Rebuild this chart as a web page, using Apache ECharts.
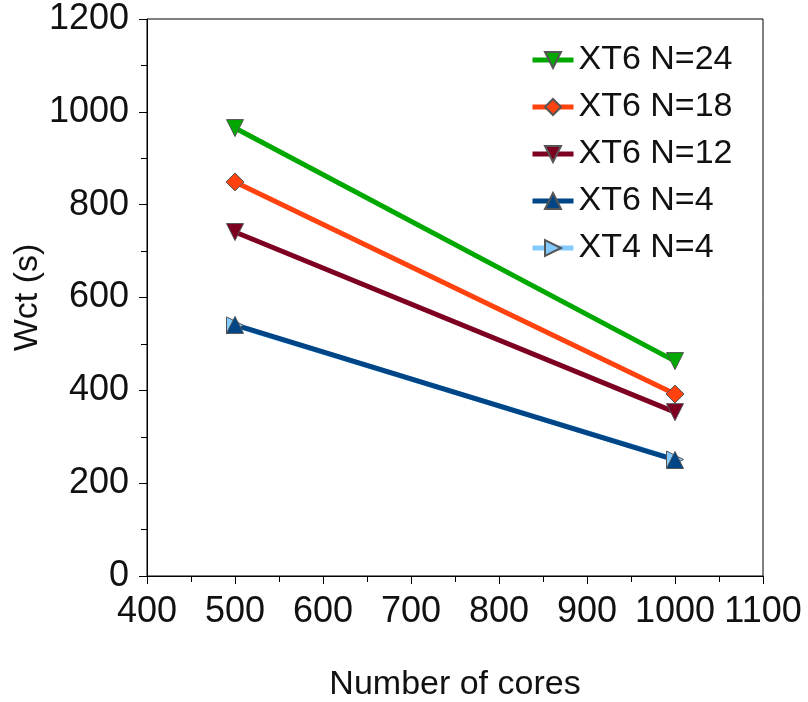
<!DOCTYPE html>
<html><head><meta charset="utf-8">
<script src="https://cdn.jsdelivr.net/npm/echarts@6/dist/echarts.min.js"></script>
<style>html,body{margin:0;padding:0;background:#fff}#c{width:808px;height:702px}</style>
</head><body><div id="c"></div>
<script>
const cores = [500, 1000];
const xt6n24 = [965, 463];
const xt6n18 = [849, 392];
const xt6n12 = [741, 353];
const xt6n4 = [541, 250];
const xt4n4 = [540, 251];
const seriesNames = ['XT6 N=24', 'XT6 N=18', 'XT6 N=12', 'XT6 N=4', 'XT4 N=4'];

const FONT = '"Liberation Sans", Arial, sans-serif';
function mk(name, vals, color, symbol, rotate, size) {
  return {
    name: name, type: 'line',
    data: cores.map((c, i) => [c, vals[i]]),
    symbol: symbol, symbolSize: size, symbolRotate: rotate,
    lineStyle: {color: color, width: 5},
    itemStyle: {color: color, borderColor: '#555', borderWidth: 1},
    emphasis: {disabled: true}
  };
}
const series = [
  mk(seriesNames[4], xt4n4, '#83caff', 'triangle', -90, 17),
  mk(seriesNames[3], xt6n4, '#004586', 'triangle', 0, 17),
  mk(seriesNames[2], xt6n12, '#7e0021', 'triangle', 180, 17),
  mk(seriesNames[1], xt6n18, '#ff420e', 'diamond', 0, 18),
  mk(seriesNames[0], xt6n24, '#00a800', 'triangle', 180, 17)
];
const chart = echarts.init(document.getElementById('c'), null, {renderer: 'canvas'});
chart.setOption({
  animation: false,
  backgroundColor: '#fff',
  textStyle: {fontFamily: FONT},
  grid: {left: 147, right: 45, top: 19, bottom: 126, show: true, borderColor: '#000', borderWidth: 1,
         containLabel: false, outerBoundsMode: 'none'},
  legend: {
    data: seriesNames,
    orient: 'vertical', left: 525, top: 38,
    itemGap: 13, itemWidth: 41, itemHeight: 20,
    lineStyle: {width: 5},
    textStyle: {fontFamily: FONT, fontSize: 34, color: '#111'}
  },
  xAxis: {
    type: 'value', min: 400, max: 1100, interval: 100,
    name: 'Number of cores', nameLocation: 'middle', nameGap: 92, nameMoveOverlap: false,
    nameTextStyle: {fontFamily: FONT, fontSize: 34, color: '#111'},
    axisLine: {show: true, lineStyle: {color: '#000', width: 1}},
    axisTick: {show: true, length: 8, lineStyle: {color: '#000'}},
    minorTick: {show: true, splitNumber: 2, length: 6, lineStyle: {color: '#000'}},
    splitLine: {show: false},
    axisLabel: {fontFamily: FONT, fontSize: 36, color: '#111', margin: 18, hideOverlap: false, formatter: v => String(v)}
  },
  yAxis: {
    type: 'value', min: 0, max: 1200, interval: 200,
    name: 'Wct (s)', nameLocation: 'middle', nameGap: 102, nameRotate: 90, nameMoveOverlap: false,
    nameTextStyle: {fontFamily: FONT, fontSize: 34, color: '#111'},
    axisLine: {show: true, lineStyle: {color: '#000', width: 1}},
    axisTick: {show: true, length: 8, lineStyle: {color: '#000'}},
    minorTick: {show: true, splitNumber: 2, length: 6, lineStyle: {color: '#000'}},
    splitLine: {show: false},
    axisLabel: {fontFamily: FONT, fontSize: 36, color: '#111', margin: 18, hideOverlap: false, formatter: v => String(v)}
  },
  series: series
});
</script></body></html>
